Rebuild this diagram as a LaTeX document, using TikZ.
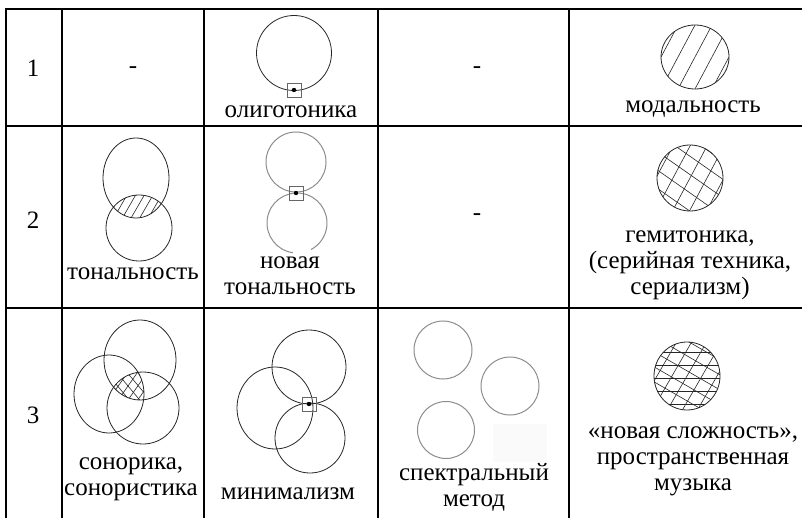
\documentclass[tikz,border=0pt]{standalone}
\usepackage{fontspec}
\setmainfont{Liberation Serif}
\newcommand\hatchset[4]{% centre x, centre y, angle, spacing
  \begin{scope}[shift={(#1,#2)}, rotate=#3]
    \foreach \k in {-6,...,6} \draw[hatch] (-70,\k*#4) -- (70,\k*#4);
  \end{scope}}
\begin{document}
\begin{tikzpicture}[x=1pt,y=-1pt,
  grid/.style={line width=2.2pt},
  ring/.style={line width=0.8pt, draw=black!85},
  pale/.style={line width=1pt, draw=black!45},
  hatch/.style={line width=0.6pt, draw=black!85},
  marker/.style={draw=black!60, line width=0.8pt, minimum size=14pt, inner sep=0pt},
  lbl/.style={font=\fontsize{25}{26}\selectfont, align=center, inner sep=0pt},
]
\useasboundingbox (0,0) rectangle (802,518);
\clip (0,0) rectangle (802,518);

% table rules (open at the right and at the bottom)
\draw[grid] (6,518) -- (6,9) -- (802,9);
\draw[grid] (5,126) -- (802,126);
\draw[grid] (5,308) -- (802,308);
\foreach \x in {62,204,378,569} \draw[grid] (\x,8) -- (\x,518);

% row numbers
\node[lbl] (n1) at (33,68) {1};
\node[lbl] (n2) at (33,220) {2};
\node[lbl] (n3) at (33,415) {3};

% empty cells
\node[lbl] (e11) at (133,70) {-};
\node[lbl] (e13) at (477,70) {-};
\node[lbl] (e23) at (477,217) {-};

% ---- row 1 ----
% oligotonics
\draw[ring] (294,53) circle[radius=37.5];
\node[marker] (sq1) at (294,90) {};
\fill (294,90) circle[radius=2.2];
\node[lbl] (t12) at (291,112) {олиготоника};

% modality
\begin{scope}
  \clip (695,57) ellipse[x radius=34, y radius=32];
  \hatchset{695}{57}{62}{15}
\end{scope}
\draw[ring] (695,57) ellipse[x radius=34, y radius=32];
\node[lbl] (t14) at (693,109) {модальность};

% ---- row 2 ----
% tonality: two overlapping circles with hatched lens
\begin{scope}
  \clip (136,178) ellipse[x radius=33, y radius=40];
  \clip (139,228) circle[radius=33];
  \hatchset{138}{206}{60}{7.5}
\end{scope}
\draw[ring] (136,178) ellipse[x radius=33, y radius=40];
\draw[ring] (139,228) circle[radius=33];
\node[lbl] (t21) at (133,274) {тональность};

% new tonality: two tangent circles
\draw[pale] (296,162) circle[radius=30];
\draw[pale] (297,223) ++(98:30) arc[start angle=98, end angle=422, radius=30];
\node[marker] (sq2) at (296,193) {};
\fill (296,193) circle[radius=2.2];
\node[lbl] (t22) at (290,276) {новая\\тональность};

% hemitonics
\begin{scope}
  \clip (690,178) circle[radius=33];
  \hatchset{690}{178}{62}{15}
  \hatchset{692}{176}{-35}{15}
\end{scope}
\draw[ring] (690,178) circle[radius=33];
\node[lbl] (t24) at (690,265) {гемитоника,\\(серийная техника,\\сериализм)};

% ---- row 3 ----
% sonorics: three overlapping circles, cross-hatched common part
\begin{scope}
  \clip (140,360) ellipse[x radius=36, y radius=40];
  \clip (109,394) ellipse[x radius=35, y radius=39];
  \clip (143,408) circle[radius=36];
  \hatchset{128}{386}{55}{8}
  \hatchset{128}{386}{-50}{8}
\end{scope}
\draw[ring] (140,360) ellipse[x radius=36, y radius=40];
\draw[ring] (109,394) ellipse[x radius=35, y radius=39];
\draw[ring] (143,408) circle[radius=36];
\node[lbl] (t31) at (131,479) {сонорика,\\сонористика};

% minimalism: three circles meeting in one point
\draw[ring] (309,367) circle[radius=37];
\draw[ring] (275,408) ellipse[x radius=38, y radius=41];
\draw[ring] (310,438) circle[radius=35];
\node[marker] (sq3) at (309,404) {};
\fill (309,404) circle[radius=2.2];
\node[lbl] (t32) at (288,494) {минимализм};

% spectral method: three separate circles
\fill[black!2] (493,424) rectangle (547,462);
\draw[pale] (443,350) circle[radius=29];
\draw[pale] (510,386) circle[radius=29];
\draw[pale] (446,430) circle[radius=28.5];
\node[lbl] (t33) at (474,487) {спектральный\\метод};

% new complexity
\begin{scope}
  \clip (687,376) ellipse[x radius=33, y radius=34];
  \hatchset{687}{376}{60}{13}
  \hatchset{689}{372}{-30}{13}
  \hatchset{687}{378}{0}{13}
\end{scope}
\draw[ring] (687,376) ellipse[x radius=33, y radius=34];
\node[lbl] (t34) at (693,461) {«новая сложность»,\\пространственная\\музыка};
\end{tikzpicture}
\end{document}
